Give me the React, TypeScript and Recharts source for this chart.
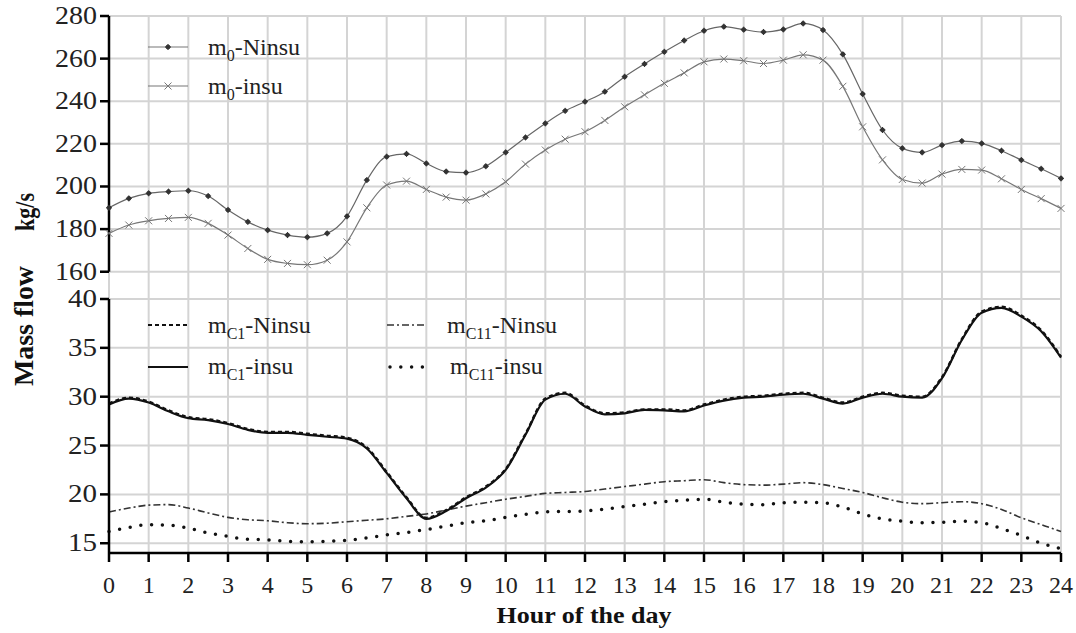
import React from "react";
import { LineChart, Line, XAxis, YAxis, CartesianGrid, ReferenceLine } from "recharts";

const hours = [0,0.5,1,1.5,2,2.5,3,3.5,4,4.5,5,5.5,6,6.5,7,7.5,8,8.5,9,9.5,10,10.5,11,11.5,12,12.5,13,13.5,14,14.5,15,15.5,16,16.5,17,17.5,18,18.5,19,19.5,20,20.5,21,21.5,22,22.5,23,23.5,24];
const xTicks = [0,1,2,3,4,5,6,7,8,9,10,11,12,13,14,15,16,17,18,19,20,21,22,23,24];
const topTicks = [160,180,200,220,240,260,280];
const bottomTicks = [15,20,25,30,35,40];

const m0Ninsu = [190,194.4,196.8,197.6,198,195.5,189,183.4,179.5,177.2,176.2,178,186,203,214,215.3,210.8,207,206.5,209.5,216,223,229.6,235.5,239.8,244.5,251.5,257.5,263.2,268.5,273.1,275,273.6,272.5,273.7,276.5,273.4,262,243.4,226.5,217.9,216,219.4,221.3,220.2,216.8,212.4,208.3,203.8];
const m0Insu = [178,181.9,183.9,185,185.5,182.7,177.2,170.9,165.8,163.9,163.3,165.4,174,190,200.7,202.5,198.6,195,193.6,196.5,202.2,210.5,217.1,222.2,225.7,231,237.4,243,248.4,253.3,258.5,259.8,259,257.7,259.3,261.8,259.3,247,228,212.5,203.3,201.6,205.8,208,207.7,203.6,198.6,194.3,189.7];
const mC1Ninsu = [29.3,29.9,29.5,28.6,27.9,27.7,27.3,26.7,26.4,26.4,26.2,26.0,25.8,24.8,22.3,19.7,17.6,18.4,19.7,20.8,22.6,26.2,29.8,30.4,29.1,28.3,28.4,28.7,28.7,28.6,29.2,29.7,30.0,30.1,30.3,30.4,29.9,29.4,30.0,30.4,30.1,30.0,32.0,35.9,38.7,39.2,38.3,36.8,34.1];
const mC1Insu = [29.2,29.8,29.4,28.5,27.8,27.6,27.2,26.6,26.3,26.3,26.1,25.9,25.7,24.7,22.2,19.6,17.5,18.3,19.6,20.7,22.5,26.1,29.7,30.3,29.0,28.2,28.3,28.65,28.6,28.5,29.1,29.6,29.9,30.0,30.2,30.3,29.8,29.3,29.9,30.3,30.0,29.9,31.9,35.8,38.6,39.1,38.2,36.7,34.0];
const mC11Ninsu = [18.2,18.6,18.9,18.95,18.6,18.1,17.65,17.4,17.3,17.1,17.0,17.05,17.2,17.35,17.5,17.75,18.0,18.4,18.8,19.15,19.5,19.8,20.1,20.2,20.3,20.55,20.8,21.05,21.3,21.4,21.5,21.2,21.0,20.95,21.05,21.2,21.0,20.6,20.2,19.65,19.2,19.05,19.15,19.25,19.05,18.45,17.6,16.9,16.2];
const mC11Insu = [16.2,16.6,16.9,16.85,16.55,16.05,15.7,15.4,15.35,15.2,15.15,15.2,15.3,15.55,15.85,16.1,16.4,16.75,17.1,17.3,17.65,17.95,18.2,18.25,18.3,18.5,18.75,19.0,19.25,19.4,19.5,19.2,19.0,18.95,19.15,19.2,19.15,18.7,18.0,17.5,17.25,17.1,17.15,17.25,17.1,16.5,15.8,15.0,14.45];

const data = hours.map((h, i) => ({
  h,
  n0: m0Ninsu[i],
  i0: m0Insu[i],
  c1n: mC1Ninsu[i],
  c1i: mC1Insu[i],
  c11n: mC11Ninsu[i],
  c11i: mC11Insu[i],
}));

const FONT = "Liberation Serif";
const GRID = "#d4d4d4";

const starDot = (p: any) => {
  const { cx, cy, index } = p;
  if (cx == null || cy == null) return <g key={`s${index}`} />;
  return (
    <g key={`s${index}`} stroke="#333" strokeWidth={1}>
      <circle cx={cx} cy={cy} r={2} fill="#333" />
      <line x1={cx - 3} y1={cy} x2={cx + 3} y2={cy} />
      <line x1={cx} y1={cy - 3} x2={cx} y2={cy + 3} />
    </g>
  );
};
const crossDot = (p: any) => {
  const { cx, cy, index } = p;
  if (cx == null || cy == null) return <g key={`x${index}`} />;
  return (
    <g key={`x${index}`} stroke="#777" strokeWidth={1}>
      <line x1={cx - 3.5} y1={cy - 3.5} x2={cx + 3.5} y2={cy + 3.5} />
      <line x1={cx - 3.5} y1={cy + 3.5} x2={cx + 3.5} y2={cy - 3.5} />
    </g>
  );
};

const YTick = (p: any) => {
  const { x, y, payload } = p;
  const s = String(payload.value);
  return (
    <text x={x - 1} y={y + 8} textAnchor="end" fontFamily={FONT} fontSize={25} fill="#222"
      textLength={s.length === 3 ? 42 : 29} lengthAdjust="spacingAndGlyphs">{s}</text>
  );
};
const XTick = (p: any) => {
  const { x, y, payload } = p;
  return (
    <text x={x} y={y + 16} textAnchor="middle" fontFamily={FONT} fontSize={24} fill="#222">{payload.value}</text>
  );
};

const Sub = ({ main, sub, rest, x, y }: any) => (
  <text x={x} y={y} fontFamily={FONT} fontSize={24} fill="#222">
    <tspan>{main}</tspan>
    <tspan fontSize={16} dy={6}>{sub}</tspan>
    <tspan dy={-6}>{rest}</tspan>
  </text>
);

export default function App() {
  return (
    <div style={{ position: "absolute", left: 0, top: 0, width: 1076, height: 633, background: "#fff", overflow: "hidden" }}>
      <div style={{ position: "absolute", left: 0, top: 0 }}>
        <LineChart width={1076} height={299} data={data} margin={{ top: 16, right: 15, bottom: 0, left: 0 }}>
          <CartesianGrid stroke={GRID} strokeWidth={2} />
          <XAxis type="number" dataKey="h" domain={[0, 24]} ticks={xTicks} hide />
          <YAxis type="number" domain={[147.2, 280]} ticks={topTicks} width={109} axisLine={false} interval={0}
            tickLine={{ stroke: "#000", strokeWidth: 2.5 }} tickSize={9} tick={<YTick />} allowDataOverflow />
          <ReferenceLine segment={[{ x: 0, y: 160 }, { x: 0, y: 280 }]} stroke="#000" strokeWidth={2.5} ifOverflow="visible" />
          <Line type="monotone" dataKey="i0" stroke="#777" strokeWidth={1.2} dot={crossDot} isAnimationActive={false} />
          <Line type="monotone" dataKey="n0" stroke="#666" strokeWidth={1.2} dot={starDot} isAnimationActive={false} />
        </LineChart>
      </div>
      <div style={{ position: "absolute", left: 0, top: 279 }}>
        <LineChart width={1076} height={354} data={data} margin={{ top: 20, right: 15, bottom: 0, left: 0 }}>
          <CartesianGrid stroke={GRID} strokeWidth={2} />
          <XAxis type="number" dataKey="h" domain={[0, 24]} ticks={xTicks} height={80}
            axisLine={{ stroke: "#000", strokeWidth: 2.5 }} tickLine={{ stroke: "#000", strokeWidth: 2.5 }}
            tickSize={9} tickMargin={15} tick={<XTick />} interval={0} />
          <YAxis type="number" domain={[14, 40]} ticks={bottomTicks} width={109} interval={0}
            axisLine={{ stroke: "#000", strokeWidth: 2.5 }} tickLine={{ stroke: "#000", strokeWidth: 2.5 }}
            tickSize={9} tick={<YTick />} allowDataOverflow />
          <Line type="monotone" dataKey="c11n" stroke="#333" strokeWidth={1.6} strokeDasharray="7 3 2 3" dot={false} isAnimationActive={false} />
          <Line type="monotone" dataKey="c11i" stroke="#111" strokeWidth={3.5} strokeDasharray="0 10.8" strokeLinecap="round" dot={false} isAnimationActive={false} />
          <Line type="monotone" dataKey="c1i" stroke="#111" strokeWidth={2.2} dot={false} isAnimationActive={false} />
          <Line type="monotone" dataKey="c1n" stroke="#111" strokeWidth={2.4} strokeDasharray="4 3" dot={false} isAnimationActive={false} />
        </LineChart>
      </div>
      <svg width={1076} height={633} style={{ position: "absolute", left: 0, top: 0, pointerEvents: "none" }}>
        <g>
          <line x1={148} y1={47} x2={188} y2={47} stroke="#777" strokeWidth={1.2} />
          {starDot({ cx: 168, cy: 47, index: 0 })}
          <Sub x={208} y={55} main="m" sub="0" rest="-Ninsu" />
          <line x1={148} y1={86} x2={188} y2={86} stroke="#777" strokeWidth={1.2} />
          {crossDot({ cx: 168, cy: 86, index: 1 })}
          <Sub x={208} y={94} main="m" sub="0" rest="-insu" />
        </g>
        <g>
          <line x1={148} y1={325} x2={188} y2={325} stroke="#111" strokeWidth={2} strokeDasharray="4 3" />
          <Sub x={208} y={333} main="m" sub="C1" rest="-Ninsu" />
          <line x1={148} y1={367} x2={188} y2={367} stroke="#111" strokeWidth={2.2} />
          <Sub x={208} y={374} main="m" sub="C1" rest="-insu" />
          <line x1={387} y1={325} x2={425} y2={325} stroke="#333" strokeWidth={1.6} strokeDasharray="7 3 2 3" />
          <Sub x={447} y={333} main="m" sub="C11" rest="-Ninsu" />
          <line x1={390} y1={367} x2={425} y2={367} stroke="#111" strokeWidth={3.5} strokeDasharray="0 10.8" strokeLinecap="round" />
          <Sub x={450} y={374} main="m" sub="C11" rest="-insu" />
        </g>
        <text transform="translate(33,326) rotate(-90)" textAnchor="middle" fontFamily={FONT} fontWeight="bold"
          fontSize={28} fill="#111" textLength={120} lengthAdjust="spacingAndGlyphs">Mass flow</text>
        <text transform="translate(34,212) rotate(-90)" textAnchor="middle" fontFamily={FONT} fontWeight="bold"
          fontSize={28} fill="#111" textLength={38} lengthAdjust="spacingAndGlyphs">kg/s</text>
        <text x={584} y={623} textAnchor="middle" fontFamily={FONT} fontWeight="bold" fontSize={24} fill="#111"
          textLength={175} lengthAdjust="spacingAndGlyphs">Hour of the day</text>
      </svg>
    </div>
  );
}
